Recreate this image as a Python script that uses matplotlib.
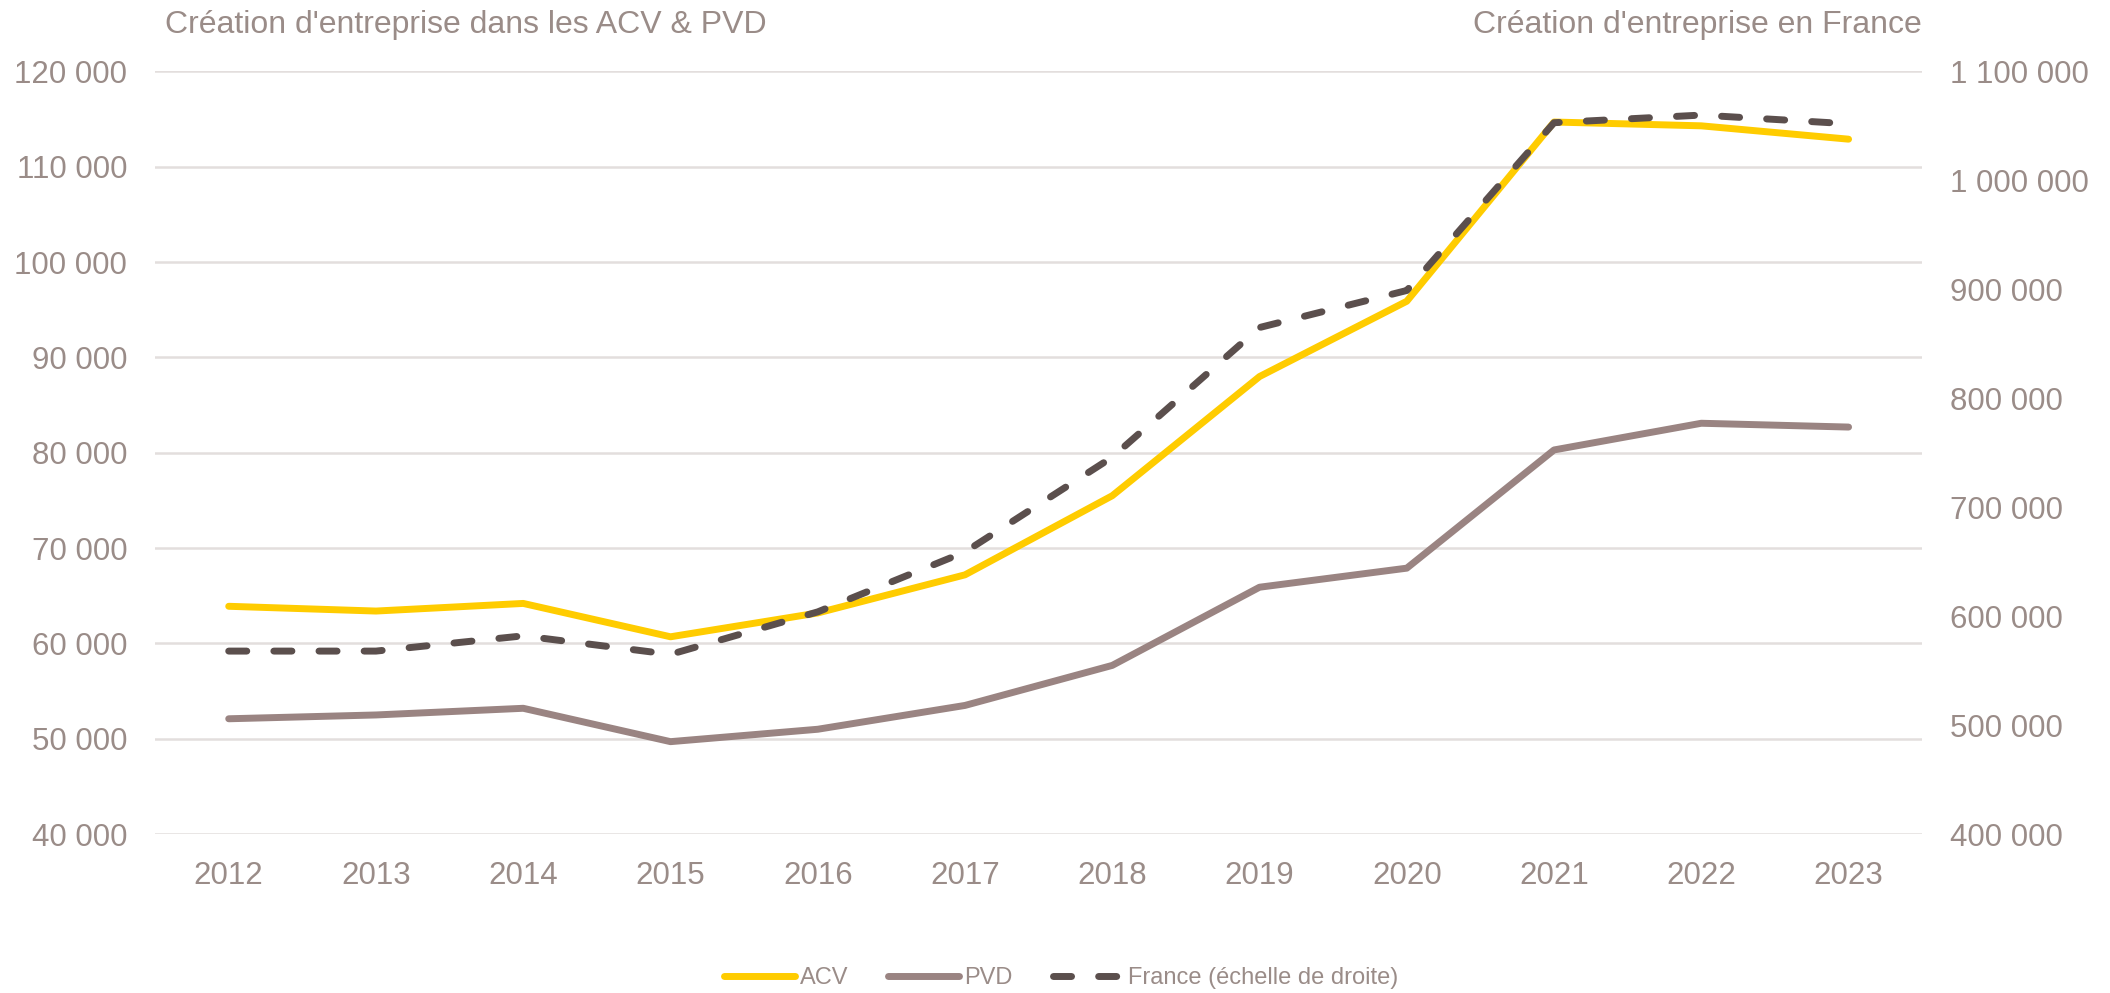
import matplotlib
matplotlib.use("Agg")
import matplotlib.pyplot as plt
from matplotlib.ticker import FuncFormatter, MultipleLocator

years = ["2012", "2013", "2014", "2015", "2016", "2017", "2018", "2019", "2020", "2021", "2022", "2023"]
acv = [63900, 63400, 64200, 60700, 63200, 67200, 75500, 88000, 95900, 114700, 114300, 112900]
pvd = [52100, 52500, 53200, 49700, 51000, 53500, 57700, 65900, 67900, 80300, 83100, 82700]
france = [568000, 568000, 582000, 565000, 604000, 659000, 746000, 865000, 899000, 1053000, 1060000, 1052000]

title_left = "Création d'entreprise dans les ACV & PVD"
title_right = "Création d'entreprise en France"
labels = ["ACV", "PVD", "France (échelle de droite)"]

TXT = "#9A8C88"
GRID = "#E3DEDD"
C_ACV = "#FFCC00"
C_PVD = "#9A8482"
C_FR = "#5B4F4D"

plt.rcParams["font.family"] = ["Liberation Sans", "DejaVu Sans"]

fig = plt.figure(figsize=(21.1, 9.93), dpi=100)
ax = fig.add_axes([0.0735, 0.160, 0.8375, 0.768])
ax2 = ax.twinx()

x = list(range(len(years)))
l1, = ax.plot(x, acv, color=C_ACV, lw=5, solid_capstyle="round", solid_joinstyle="round", zorder=3)
l2, = ax.plot(x, pvd, color=C_PVD, lw=5, solid_capstyle="round", solid_joinstyle="round", zorder=3)
l3, = ax2.plot(x, france, color=C_FR, lw=5, dashes=(2.6, 3.9), dash_capstyle="round", zorder=4)

ax.set_xlim(-0.5, len(years) - 0.5)
ax.set_ylim(40000, 120000)
ax2.set_ylim(400000, 1100000)
ax.yaxis.set_major_locator(MultipleLocator(10000))
ax2.yaxis.set_major_locator(MultipleLocator(100000))

def fmt(v, pos):
    return "{:,}".format(int(round(v))).replace(",", " ")

ax.yaxis.set_major_formatter(FuncFormatter(fmt))
ax2.yaxis.set_major_formatter(FuncFormatter(fmt))
ax.set_xticks(x)
ax.set_xticklabels(years)

ax.grid(axis="y", color=GRID, lw=1.8, zorder=0)
ax.set_axisbelow(True)
for a in (ax, ax2):
    for s in a.spines.values():
        s.set_visible(False)
ax.tick_params(axis="both", length=0, labelsize=22.5, labelcolor=TXT)
ax.tick_params(axis="y", pad=20)
ax.tick_params(axis="x", pad=19)
ax2.tick_params(axis="y", length=0, labelsize=22.5, labelcolor=TXT, pad=20)

fig.text(0.078, 0.975, title_left, ha="left", va="center", fontsize=23, color=TXT)
fig.text(0.911, 0.975, title_right, ha="right", va="center", fontsize=23, color=TXT)

leg = fig.legend([l1, l2, l3], labels, loc="center", bbox_to_anchor=(0.503, 0.015),
                 ncol=3, frameon=False, fontsize=17, handlelength=3.0, handletextpad=0.2,
                 columnspacing=1.7, labelcolor=TXT)

fig.savefig("out.png", dpi=100, facecolor="white")
